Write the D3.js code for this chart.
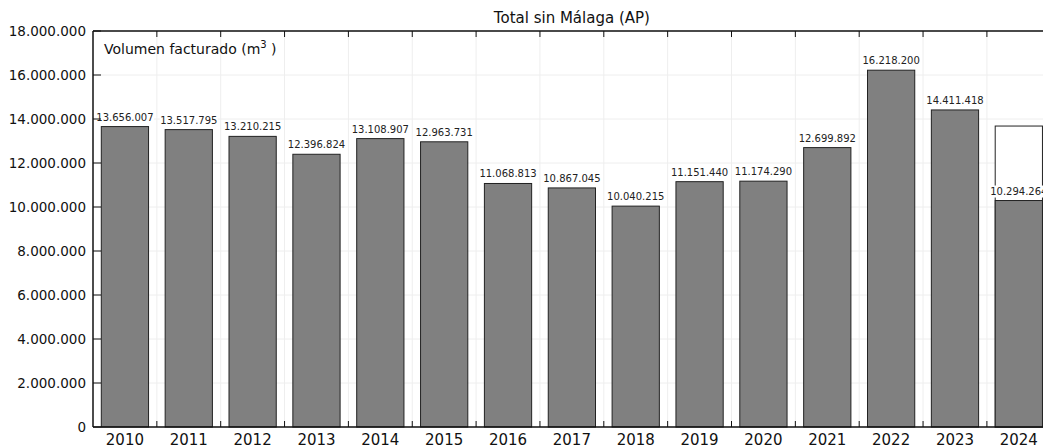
<!DOCTYPE html>
<html>
<head>
<meta charset="utf-8">
<script src="https://cdn.jsdelivr.net/npm/d3@7"></script>
<style>
  body { margin: 0; background: #fff; }
  svg { display: block; font-family: "DejaVu Sans", sans-serif; }
</style>
</head>
<body>
<svg id="chart" width="1043" height="447"></svg>
<script>
// values
const years = ['2010', '2011', '2012', '2013', '2014', '2015', '2016', '2017',
  '2018', '2019', '2020', '2021', '2022', '2023', '2024'];
const volumes = [13656007, 13517795, 13210215, 12396824, 13108907, 12963731,
  11068813, 10867045, 10040215, 11151440, 11174290, 12699892, 16218200,
  14411418, 10294264];
// open outline bar behind the last year (estimate)
const projectedYears = ['2024'];
const projectedValues = [13680000];
const yTicks = [0, 2000000, 4000000, 6000000, 8000000, 10000000, 12000000,
  14000000, 16000000, 18000000];

const svg = d3.select('#chart');
const plotLeft = 93, plotTop = 31, plotBottom = 427;
const step = 63.85;
const plotRight = plotLeft + years.length * step;

const loc = d3.formatLocale({ decimal: ',', thousands: '.', grouping: [3], currency: ['', '€'] });
const fmt = loc.format(',d');

const x = d3.scaleBand()
  .domain(years)
  .range([plotLeft, plotRight])
  .paddingInner(0.26)
  .paddingOuter(0.13);

const y = d3.scaleLinear()
  .domain([0, 18000000])
  .range([plotBottom, plotTop]);

// grid
const grid = svg.append('g');
grid.selectAll('.hg')
  .data(yTicks)
  .enter()
  .append('line')
  .attr('x1', plotLeft).attr('x2', plotRight)
  .attr('y1', d => y(d)).attr('y2', d => y(d))
  .attr('stroke', '#eeeeee');

const bounds = years.slice(1).map(d => x(d) - x.step() * x.paddingInner() / 2);
grid.selectAll('.vg')
  .data(bounds)
  .enter()
  .append('line')
  .attr('x1', d => d).attr('x2', d => d)
  .attr('y1', plotTop).attr('y2', plotBottom)
  .attr('stroke', '#eeeeee');

// projected outline bar
svg.append('g').selectAll('rect')
  .data(projectedYears.map((d, i) => ({ year: d, value: projectedValues[i] })))
  .enter()
  .append('rect')
  .attr('x', d => x(d.year))
  .attr('y', d => y(d.value))
  .attr('width', x.bandwidth())
  .attr('height', d => plotBottom - y(d.value))
  .attr('fill', '#fff')
  .attr('stroke', '#222')
  .attr('stroke-width', 1);

// bars
const data = years.map((d, i) => ({ year: d, value: volumes[i] }));
svg.append('g').selectAll('rect')
  .data(data)
  .enter()
  .append('rect')
  .attr('x', d => x(d.year))
  .attr('y', d => y(d.value))
  .attr('width', x.bandwidth())
  .attr('height', d => plotBottom - y(d.value))
  .attr('fill', '#808080')
  .attr('stroke', '#222')
  .attr('stroke-width', 1);

// value labels with white box
const labels = svg.append('g').selectAll('g')
  .data(data)
  .enter()
  .append('g')
  .attr('transform', d => `translate(${x(d.year) + x.bandwidth() / 2}, ${y(d.value) - 6})`);

labels.append('rect')
  .attr('x', -29)
  .attr('y', -9)
  .attr('width', 58)
  .attr('height', 12)
  .attr('fill', '#fff');

labels.append('text')
  .attr('text-anchor', 'middle')
  .style('font-size', '10px')
  .style('fill', '#222')
  .text(d => fmt(d.value));

// frame
svg.append('line')
  .attr('x1', plotLeft).attr('x2', plotRight)
  .attr('y1', plotTop).attr('y2', plotTop)
  .attr('stroke', '#111').attr('stroke-width', 1.5);
svg.append('line')
  .attr('x1', plotLeft).attr('x2', plotRight)
  .attr('y1', plotBottom).attr('y2', plotBottom)
  .attr('stroke', '#111').attr('stroke-width', 1.5);
svg.append('line')
  .attr('x1', plotLeft).attr('x2', plotLeft)
  .attr('y1', plotTop).attr('y2', plotBottom)
  .attr('stroke', '#111').attr('stroke-width', 1.5);

// y ticks (inward)
const yAxis = svg.append('g');
yAxis.selectAll('line')
  .data(yTicks)
  .enter()
  .append('line')
  .attr('x1', plotLeft).attr('x2', plotLeft + 8)
  .attr('y1', d => y(d)).attr('y2', d => y(d))
  .attr('stroke', '#111');
yAxis.selectAll('text')
  .data(yTicks)
  .enter()
  .append('text')
  .attr('x', plotLeft - 7)
  .attr('y', d => y(d))
  .attr('dy', '0.35em')
  .attr('text-anchor', 'end')
  .style('font-size', '13.5px')
  .style('fill', '#111')
  .text(d => fmt(d));

// x ticks at category boundaries, top and bottom
const xTicks = svg.append('g');
xTicks.selectAll('.tb')
  .data(bounds)
  .enter()
  .append('line')
  .attr('x1', d => d).attr('x2', d => d)
  .attr('y1', plotBottom).attr('y2', plotBottom - 6)
  .attr('stroke', '#111');
xTicks.selectAll('.tt')
  .data(bounds)
  .enter()
  .append('line')
  .attr('x1', d => d).attr('x2', d => d)
  .attr('y1', plotTop).attr('y2', plotTop + 6)
  .attr('stroke', '#111');

svg.append('g').selectAll('text')
  .data(years)
  .enter()
  .append('text')
  .attr('x', d => x(d) + x.bandwidth() / 2)
  .attr('y', 445)
  .attr('text-anchor', 'middle')
  .style('font-size', '15px')
  .style('fill', '#111')
  .text(d => d);

// title
svg.append('text')
  .attr('x', (plotLeft + plotRight) / 2)
  .attr('y', 23)
  .attr('text-anchor', 'middle')
  .style('font-size', '15px')
  .style('fill', '#111')
  .text('Total sin Málaga (AP)');

// unit label
const unit = svg.append('text')
  .attr('x', 104)
  .attr('y', 54)
  .style('font-size', '14px')
  .style('fill', '#111');
unit.append('tspan').text('Volumen facturado (m');
unit.append('tspan').attr('dy', -6).style('font-size', '10px').text('3');
unit.append('tspan').attr('dy', 6).text(' )');
</script>
</body>
</html>
